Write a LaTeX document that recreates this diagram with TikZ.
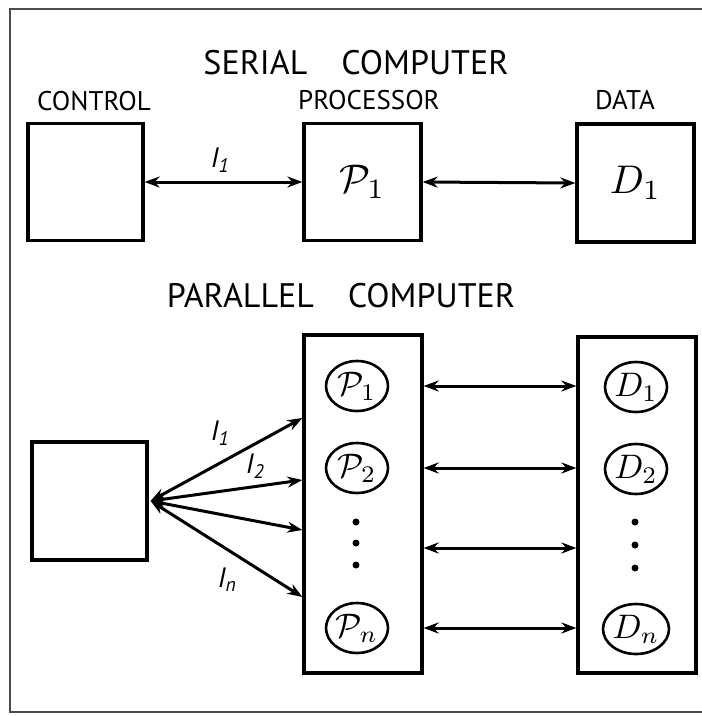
\documentclass[tikz,border=0pt]{standalone}
\usepackage{graphicx}
\usepackage{fontspec}
\setmainfont{PT Sans}
\usetikzlibrary{arrows.meta,shapes.geometric}
\newcommand{\mybigsym}[1]{\scalebox{4}{$#1$}}
\newcommand{\mymidsym}[1]{\scalebox{3.4}{$#1$}}
\begin{document}
\begin{tikzpicture}[x=1pt,y=-1pt,
  box/.style={draw,line width=3.2pt,rectangle,inner sep=0pt},
  ring/.style={draw,line width=2.6pt,ellipse,inner sep=0pt,minimum width=62pt,minimum height=50pt},
  arr/.style={line width=3pt,{Stealth[length=15pt,width=11pt]}-{Stealth[length=15pt,width=11pt]}},
  title/.style={font=\fontsize{34}{38}\selectfont},
  head/.style={font=\fontsize{27}{30}\selectfont},
  lab/.style={font=\fontsize{28}{32}\selectfont},
  dot/.style={fill,circle,inner sep=0pt,minimum size=7pt}]
\useasboundingbox (0,0) rectangle (702,716);
\draw[line width=1.6pt,black!70] (702,9) -- (10,9) -- (10,712) -- (702,712);

% serial
\node[title] (st) at (356,63) {SERIAL\quad COMPUTER};
\node[head] (hc) at (94,101) {CONTROL};
\node[head] (hp) at (369,100) {PROCESSOR};
\node[head] (hd) at (625,100) {DATA};
\node[box,minimum width=115pt,minimum height=117pt] (ctl) at (85.5,182) {};
\node[box,minimum width=117pt,minimum height=117pt] (proc) at (362.5,182) {\mybigsym{\mathcal{P}_{1}}};
\node[box,minimum width=117pt,minimum height=118pt] (data) at (635.5,183) {\mybigsym{D_{1}}};
\draw[arr] (ctl.east) -- (proc.west);
\draw[arr] (proc.east) -- (data.west);
\node[lab] (i1) at (220,160) {\itshape I\textsubscript{1}};

% parallel
\node[title] (pt) at (341,296) {PARALLEL\quad COMPUTER};
\node[box,minimum width=118pt,minimum height=338pt] (pcol) at (363,504) {};
\node[box,minimum width=118pt,minimum height=336pt] (dcol) at (637,505) {};
\node[box,minimum width=115pt,minimum height=118pt] (ctl2) at (89.5,501) {};

\node[ring] (p1) at (357,386) {\mymidsym{\mathcal{P}_{1}}};
\node[ring] (p2) at (357,468) {\mymidsym{\mathcal{P}_{2}}};
\node[ring] (pn) at (357,628) {\mymidsym{\mathcal{P}_{n}}};
\node[ring] (d1) at (636,387) {\mymidsym{D_1}};
\node[ring] (d2) at (636,469) {\mymidsym{D_2}};
\node[ring] (dn) at (636,629) {\mymidsym{D_n}};

\node[dot] (pa) at (356,522) {};
\node[dot] (pb) at (356,543) {};
\node[dot] (pc) at (356,565) {};
\node[dot] (da) at (635,522) {};
\node[dot] (db) at (635,545) {};
\node[dot] (dc) at (635,568) {};

\coordinate (r3) at (0,548);
\draw[arr] (pcol.east |- p1) -- (dcol.west |- p1);
\draw[arr] (pcol.east |- p2) -- (dcol.west |- p2);
\draw[arr] (pcol.east |- r3) -- (dcol.west |- r3);
\draw[arr] (pcol.east |- pn) -- (dcol.west |- pn);

\coordinate (f1) at (pcol.west |- 0,418);
\coordinate (f2) at (pcol.west |- 0,480);
\coordinate (f3) at (pcol.west |- 0,530);
\coordinate (f4) at (pcol.west |- 0,597);
\coordinate (fo) at ([xshift=2pt]ctl2.east);
\foreach \f in {f1,f2,f3,f4} \draw[arr] (fo) -- (\f);

\node[lab] (l1) at (220,433) {\itshape I\textsubscript{1}};
\node[lab] (l2) at (255,466) {\itshape I\textsubscript{2}};
\node[lab] (ln) at (227,580) {\itshape I\textsubscript{\itshape n}};
\end{tikzpicture}
\end{document}
